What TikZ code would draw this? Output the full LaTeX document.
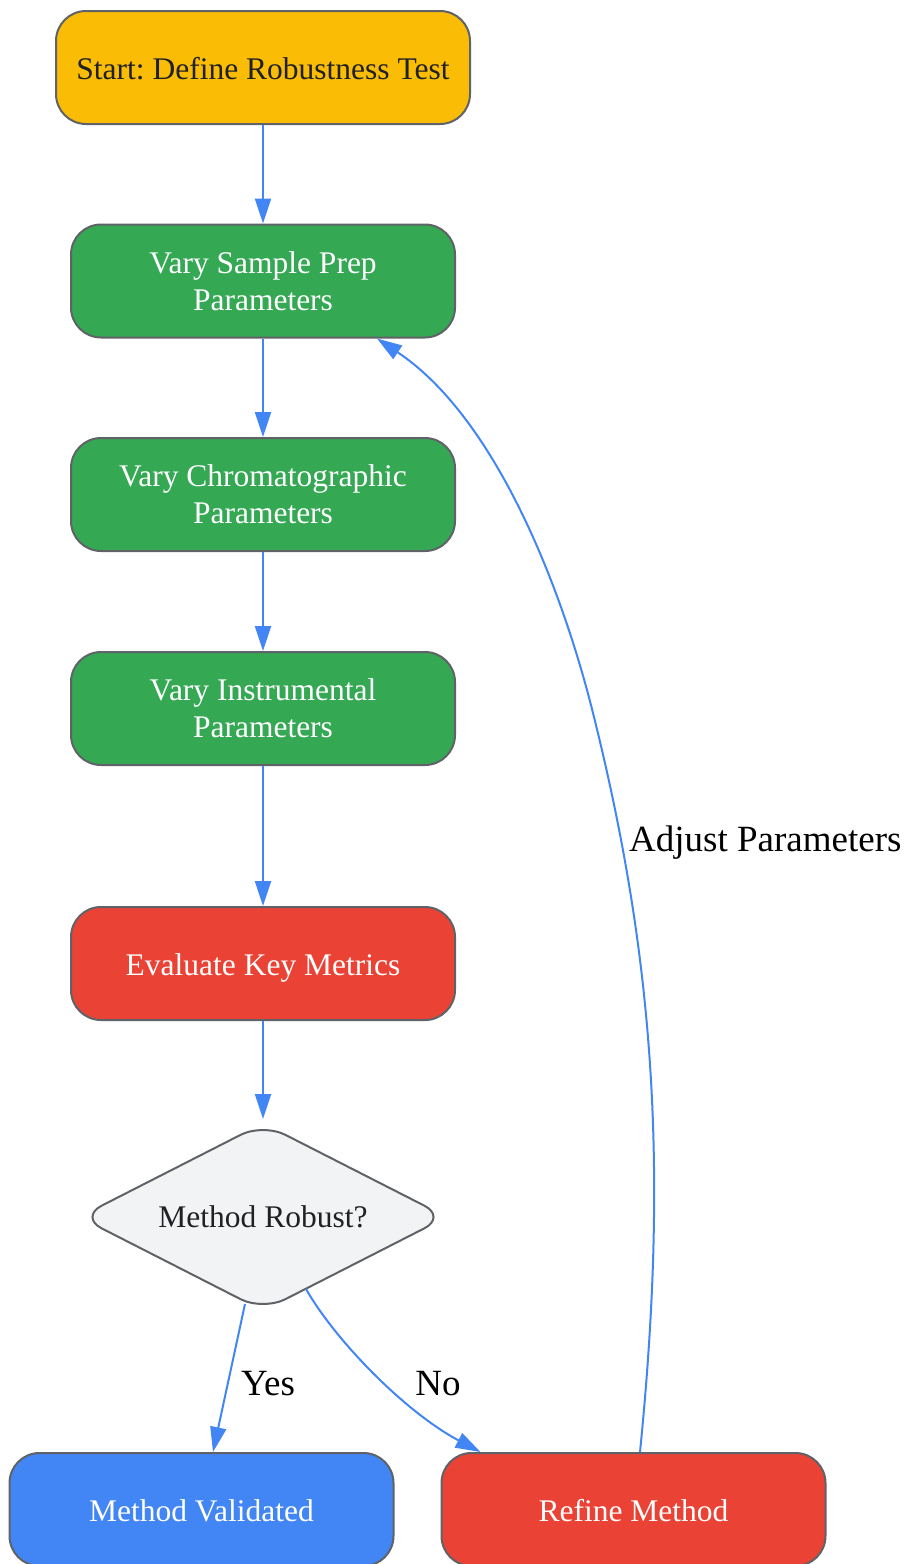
\documentclass[tikz,border=0pt]{standalone}
\usepackage{fontspec}
\setmainfont{Liberation Serif}
\usetikzlibrary{shapes.geometric,arrows.meta,calc}
\definecolor{gyellow}{HTML}{FBBC05}
\definecolor{ggreen}{HTML}{34A853}
\definecolor{gred}{HTML}{EA4335}
\definecolor{gblue}{HTML}{4285F4}
\definecolor{gborder}{HTML}{5F6368}
\definecolor{gdiam}{HTML}{F1F3F4}
\definecolor{gtext}{HTML}{202124}
\frenchspacing
\begin{document}
\begin{tikzpicture}[x=1pt,y=-1pt,
  box/.style={draw=gborder, line width=2pt, rounded corners=30pt,
    minimum width=384pt, minimum height=113pt, align=center, text=white,
    font=\fontsize{31.5}{37}\selectfont, inner sep=0pt},
  oneline/.style={text height=24pt, text depth=0pt},
  decision/.style={shape=diamond, aspect=2, draw=gborder, fill=gdiam, line width=2pt,
    rounded corners=25pt, minimum width=368pt, minimum height=188pt, inner sep=0pt,
    text=gtext, font=\fontsize{31.5}{37}\selectfont},
  flow/.style={draw=gblue, line width=2pt, -{Triangle[length=25pt,width=16pt]}},
  lbl/.style={font=\fontsize{37}{40}\selectfont, text=black, inner sep=0pt}]
\useasboundingbox (0,0) rectangle (907,1564);

\node[box, oneline, fill=gyellow, text=gtext, minimum width=414pt] (start) at (263,67.5) {Start: Define Robustness Test};
\node[box, fill=ggreen] (sample) at (263,281) {Vary Sample Prep\\Parameters};
\node[box, fill=ggreen] (chrom) at (263,494.5) {Vary Chromatographic\\Parameters};
\node[box, fill=ggreen] (instr) at (263,708.5) {Vary Instrumental\\Parameters};
\node[box, oneline, fill=gred] (eval) at (263,963.5) {Evaluate Key Metrics};
\node[decision] (dia) at (263,1217) {Method Robust?};
\node[box, oneline, fill=gblue] (valid) at (201.5,1509.5) {Method Validated};
\node[box, oneline, fill=gred] (refine) at (633.5,1509.5) {Refine Method};

\draw[flow] (start) -- (sample);
\draw[flow] (sample) -- (chrom);
\draw[flow] (chrom) -- (instr);
\draw[flow] (instr) -- (eval);
\draw[flow] (eval) -- ($(dia.center)+(0,-98)$);
\draw[flow] ($(dia.center)+(-18,87)$) -- ($(valid.north)+(11.5,0)$);
\draw[flow] ($(dia.center)+(43,72)$) .. controls (335,1340) and (405,1412) .. ($(refine.north west)+(40,0)$);
\draw[flow] ($(refine.north)+(6.5,0)$) .. controls (668,1172) and (655.5,963) .. (593,713)
  .. controls (560.5,583) and (494,416.5) .. ($(sample.south)+(114,0)$);

\node[lbl] (yes) at (268,1384) {Yes};
\node[lbl] (no) at (438,1384) {No};
\node[lbl, anchor=base west] (adjust) at (629,851) {Adjust Parameters};
\end{tikzpicture}
\end{document}
